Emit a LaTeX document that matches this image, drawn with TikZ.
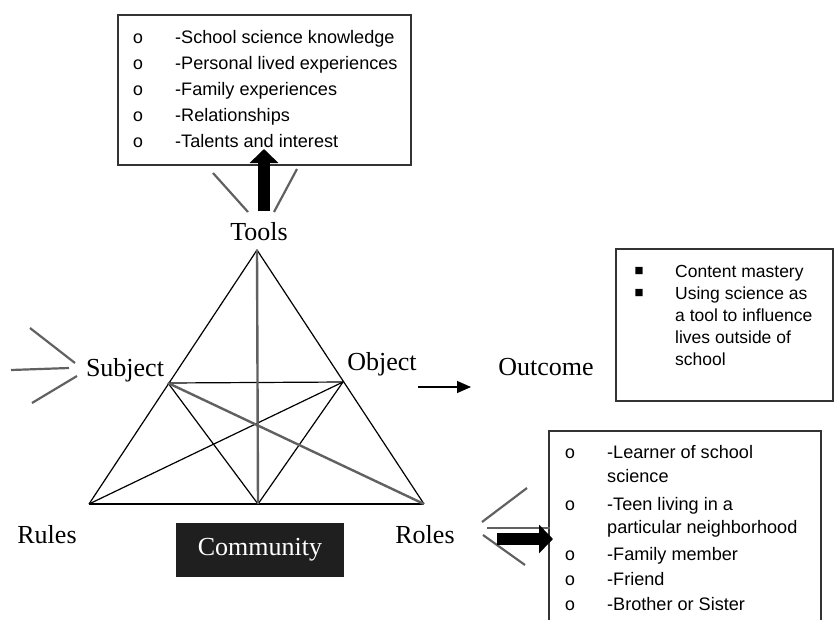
\documentclass[tikz,border=0pt]{standalone}
\usepackage{fontspec}
\setmainfont{Liberation Serif}
\newfontfamily\boxfont{Liberation Sans}
\newfontfamily\monofont{Liberation Mono}
\newfontfamily\symfont{DejaVu Sans}
\usetikzlibrary{arrows.meta}

\begin{document}
\begin{tikzpicture}[x=1pt,y=-1pt,
  edge/.style={line width=1.2pt, black},
  heavy edge/.style={line width=2.4pt, black!62},
  ray/.style={line width=2.2pt, black!62},
  vertexlabel/.style={font=\fontsize{26}{26}\selectfont, anchor=base, inner sep=0pt},
  listbox/.style={draw=black!80, line width=1.5pt},
  item/.style={font=\boxfont\fontsize{18.1}{20}\selectfont, anchor=base west, inner sep=0pt},
  smallitem/.style={item, font=\boxfont\fontsize{17.5}{20}\selectfont},
  circbullet/.style={font=\monofont\fontsize{18}{20}\selectfont, anchor=base, inner sep=0pt},
  sqbullet/.style={font=\symfont\fontsize{9.5}{10}\selectfont, anchor=center, inner sep=0pt},
  fat arrow/.style={line width=12pt, black, -{Triangle[width=28pt,length=14pt]}},
  thin arrow/.style={line width=1.2pt, black, -{Triangle[width=12pt,length=14pt]}},
]
\useasboundingbox (0,0) rectangle (838,619);
\clip (0,0) rectangle (838,619);

% ---- activity triangle ----
\coordinate (T)  at (257,250);
\coordinate (S)  at (168,383);
\coordinate (O)  at (343,382);
\coordinate (BL) at (89,504);
\coordinate (BM) at (258,504);
\coordinate (BR) at (424,504);

\draw[edge] (BL) -- (T) -- (BR);
\draw[edge, line width=1.6pt] (BL) -- (BR);
\draw[edge] (S) -- (O);
\draw[edge] (S) -- (BM) -- (O);
\draw[edge] (O) -- (BL);
\draw[heavy edge] (S) -- (BR);
\draw[heavy edge] (T) -- (BM);

% ---- vertex labels ----
\node[vertexlabel] (tools)   at (259,240) {Tools};
\node[vertexlabel] (subject) at (125,376) {Subject};
\node[vertexlabel] (object)  at (382,370) {Object};
\node[vertexlabel] (outcome) at (546,375) {Outcome};
\node[vertexlabel] (rules)   at (47,543)  {Rules};
\node[vertexlabel] (roles)   at (425,543) {Roles};
\node[fill=black!88, text=white, minimum width=168pt, minimum height=54pt,
      inner sep=0pt, font=\fontsize{26}{26}\selectfont] (community) at (260,550) {Community};

% ---- object -> outcome ----
\coordinate (objArrowStart) at (418,387);
\coordinate (objArrowEnd)   at (471,387);
\draw[thin arrow] (objArrowStart) -- (objArrowEnd);

% ---- tools box ----
\node[listbox, minimum width=293pt, minimum height=150pt, inner sep=0pt] (toolsbox) at (264.5,90) {};
\foreach \y/\t in {43/{-School science knowledge}, 69/{-Personal lived experiences},
                   95/{-Family experiences}, 121/{-Relationships}, 147/{-Talents and interest}}{
  \node[circbullet] at (138,\y) {o};
  \node[item] at (175,\y) {\t};
}

% rays and arrow below the tools box
\draw[ray] (213,173) -- (248,212);
\draw[ray] (297,169) -- (274,212);
\coordinate (toolsArrowStart) at (264,211);
\coordinate (toolsArrowTip)   at (264,149);
\draw[fat arrow] (toolsArrowStart) -- (toolsArrowTip);

% ---- subject rays ----
\draw[ray] (30,328) -- (75,363);
\draw[ray] (11,370) -- (69,368);
\draw[ray] (32,403) -- (77,376);

% ---- outcome box ----
\node[listbox, minimum width=217pt, minimum height=152pt, inner sep=0pt] (outcomebox) at (724.5,325) {};
\node[sqbullet] at (639,271.5) {■};
\node[sqbullet] at (639,293) {■};
\node[smallitem] at (675,277) {Content mastery};
\node[smallitem] at (675,299) {Using science as};
\node[smallitem] at (675,321) {a tool to influence};
\node[smallitem] at (675,343) {lives outside of};
\node[smallitem] at (675,365) {school};

% ---- roles box (runs past the lower edge) ----
\node[listbox, minimum width=272pt, minimum height=230pt, inner sep=0pt, anchor=north west] (rolesbox) at (548,430) {};
\foreach \y in {458,510,560,585,610}{
  \node[circbullet] at (570,\y) {o};
}
\node[item] at (607,458) {-Learner of school};
\node[item] at (607,482) {science};
\node[item] at (607,510) {-Teen living in a};
\node[item] at (607,533) {particular neighborhood};
\node[item] at (607,560) {-Family member};
\node[item] at (607,585) {-Friend};
\node[item] at (607,610) {-Brother or Sister};

% rays and arrow beside the roles box
\draw[ray] (482,522) -- (527,488);
\draw[ray] (487,528) -- (550,528);
\draw[ray] (483,535) -- (525,565);
\coordinate (rolesArrowStart) at (497,539);
\coordinate (rolesArrowTip)   at (553,539);
\draw[fat arrow] (rolesArrowStart) -- (rolesArrowTip);
\end{tikzpicture}
\end{document}
